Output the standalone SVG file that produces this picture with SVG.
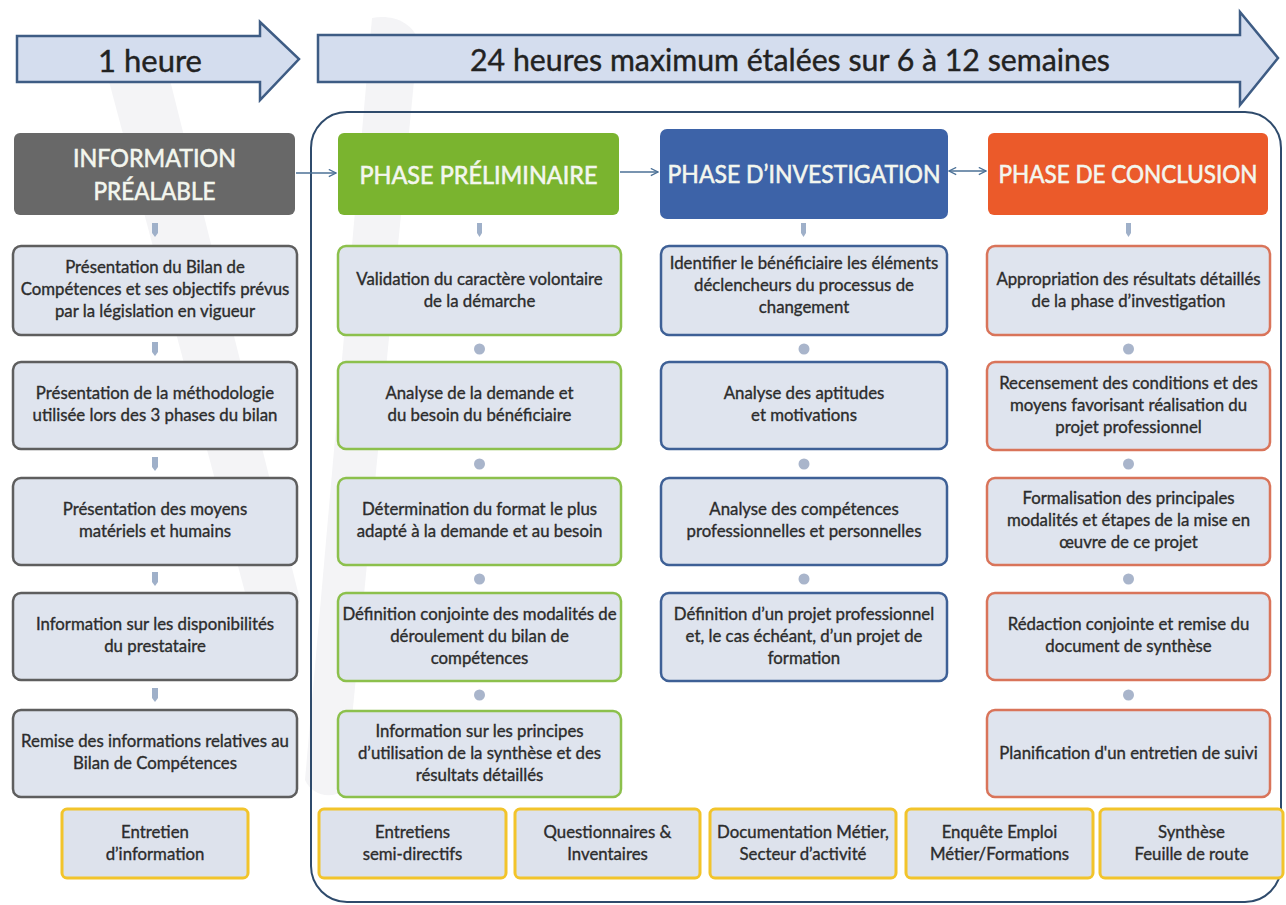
<svg xmlns="http://www.w3.org/2000/svg" width="1286" height="905" viewBox="0 0 1286 905">
<defs>
<style>
.t{font-family:Lato,"Open Sans","Liberation Sans",sans-serif;font-size:16.8px;fill:#2c2c2c;stroke:#2c2c2c;stroke-width:0.35;text-anchor:middle}
.big{font-family:Lato,"Open Sans","Liberation Sans",sans-serif;font-size:31px;fill:#222;stroke:#222;stroke-width:0.4;text-anchor:middle}
.hd{font-family:Lato,"Open Sans","Liberation Sans",sans-serif;font-size:25px;fill:#f3f6ee;stroke:#f3f6ee;stroke-width:0.6;text-anchor:middle}
.tl{fill:#d4ddee;stroke:#3e5c84;stroke-width:2.5;stroke-linejoin:miter}
.box{fill:#dfe4ee;stroke-width:2.5}
.g{stroke:#5e5e5e}
.gr{stroke:#8cc04c}
.bl{stroke:#3e6096}
.or{stroke:#d9745a}
.ye{fill:#dde2ec;stroke:#f2c42b;stroke-width:3}
.dot{fill:#a9b5cb}
.sa{fill:#9fb0c9}
.con{fill:none;stroke:#4b7096;stroke-width:1.6}
.wm{fill:#f4f4f6}
</style>
<marker id="ah" viewBox="0 0 10 10" refX="9" refY="5" markerWidth="9" markerHeight="9" orient="auto-start-reverse" markerUnits="userSpaceOnUse">
<path d="M1,1 L9,5 L1,9" fill="none" stroke="#4b7096" stroke-width="1.4"/>
</marker>
</defs>
<rect width="1286" height="905" fill="#ffffff"/>

<g id="watermark">
<path class="wm" d="M98,40 C120,30 150,34 165,60 L300,600 C290,630 270,640 255,630 Z"/>
<path class="wm" d="M372,18 C392,14 412,22 418,40 L345,790 C330,800 312,795 305,780 Z"/>
</g>

<g id="timeline-1h">
<polygon class="tl" points="17,36 260,36 260,22 299,59 260,100 260,82 17,82"/>
<text class="big" x="150" y="72">1 heure</text>
</g>
<g id="timeline-24h">
<polygon class="tl" points="318,35 1240,35 1240,12 1278,58 1240,105 1240,82 318,82"/>
<text class="big" x="790" y="71" textLength="640" lengthAdjust="spacingAndGlyphs">24 heures maximum étalées sur 6 à 12 semaines</text>
</g>

<g id="container">
<rect x="311" y="112" width="970" height="790" rx="36" fill="none" stroke="#2f4b6c" stroke-width="2"/>
</g>

<g id="connectors">
<line class="con" x1="296" y1="173" x2="336" y2="173" marker-end="url(#ah)"/>
<line class="con" x1="620" y1="172" x2="658" y2="172" marker-end="url(#ah)"/>
<line class="con" x1="949" y1="171" x2="986" y2="171" marker-start="url(#ah)" marker-end="url(#ah)"/>
<path class="sa" d="M152,223 h6 v10 l-3,4 l-3,-4 z M152,342 h6 v10 l-3,4 l-3,-4 z M152,457 h6 v10 l-3,4 l-3,-4 z M152,572 h6 v10 l-3,4 l-3,-4 z M152,688 h6 v10 l-3,4 l-3,-4 z"/>
<path class="sa" d="M477,223 h5 v10 l-2.5,4 l-2.5,-4 z M801,223 h5 v10 l-2.5,4 l-2.5,-4 z M1126,223 h5 v10 l-2.5,4 l-2.5,-4 z"/>
<circle class="dot" cx="479.5" cy="349" r="5.5"/>
<circle class="dot" cx="479.5" cy="464" r="5.5"/>
<circle class="dot" cx="479.5" cy="579" r="5.5"/>
<circle class="dot" cx="479.5" cy="695" r="5.5"/>
<circle class="dot" cx="804" cy="349" r="5.5"/>
<circle class="dot" cx="804" cy="464" r="5.5"/>
<circle class="dot" cx="804" cy="579" r="5.5"/>
<circle class="dot" cx="1128.5" cy="349" r="5.5"/>
<circle class="dot" cx="1128.5" cy="464" r="5.5"/>
<circle class="dot" cx="1128.5" cy="579" r="5.5"/>
<circle class="dot" cx="1128.5" cy="695" r="5.5"/>
</g>

<g id="hdr-info">
<rect x="14" y="133" width="281" height="82" rx="6" fill="#686868"/>
<text class="hd" x="154.5" y="167" textLength="163" lengthAdjust="spacingAndGlyphs">INFORMATION</text>
<text class="hd" x="154.5" y="200" textLength="122" lengthAdjust="spacingAndGlyphs">PRÉALABLE</text>
</g>
<g id="hdr-prelim">
<rect x="338" y="133" width="281" height="82" rx="6" fill="#7ab42f"/>
<text class="hd" x="478.5" y="184" textLength="238" lengthAdjust="spacingAndGlyphs">PHASE PRÉLIMINAIRE</text>
</g>
<g id="hdr-invest">
<rect x="660" y="129" width="288" height="90" rx="7" fill="#3d63a8"/>
<text class="hd" x="804" y="183" textLength="273" lengthAdjust="spacingAndGlyphs">PHASE D’INVESTIGATION</text>
</g>
<g id="hdr-concl">
<rect x="988" y="133" width="280" height="82" rx="6" fill="#eb5a2a"/>
<text class="hd" x="1128" y="183" textLength="259" lengthAdjust="spacingAndGlyphs">PHASE DE CONCLUSION</text>
</g>

<!-- left column -->
<g id="info-1"><rect class="box g" x="13" y="246" width="284" height="89" rx="8"/>
<text class="t" x="155" y="273">Présentation du Bilan de</text><text class="t" x="155" y="295">Compétences et ses objectifs prévus</text><text class="t" x="155" y="317">par la législation en vigueur</text></g>
<g id="info-2"><rect class="box g" x="13" y="362" width="284" height="87" rx="8"/>
<text class="t" x="155" y="399">Présentation de la méthodologie</text><text class="t" x="155" y="421">utilisée lors des 3 phases du bilan</text></g>
<g id="info-3"><rect class="box g" x="13" y="478" width="284" height="87" rx="8"/>
<text class="t" x="155" y="515">Présentation des moyens</text><text class="t" x="155" y="537">matériels et humains</text></g>
<g id="info-4"><rect class="box g" x="13" y="593" width="284" height="87" rx="8"/>
<text class="t" x="155" y="630">Information sur les disponibilités</text><text class="t" x="155" y="652">du prestataire</text></g>
<g id="info-5"><rect class="box g" x="13" y="710" width="284" height="87" rx="8"/>
<text class="t" x="155" y="747">Remise des informations relatives au</text><text class="t" x="155" y="769">Bilan de Compétences</text></g>

<!-- green column -->
<g id="prelim-1"><rect class="box gr" x="338" y="246" width="283" height="89" rx="8"/>
<text class="t" x="479.5" y="285">Validation du caractère volontaire</text><text class="t" x="479.5" y="307">de la démarche</text></g>
<g id="prelim-2"><rect class="box gr" x="338" y="362" width="283" height="87" rx="8"/>
<text class="t" x="479.5" y="399">Analyse de la demande et</text><text class="t" x="479.5" y="421">du besoin du bénéficiaire</text></g>
<g id="prelim-3"><rect class="box gr" x="338" y="478" width="283" height="87" rx="8"/>
<text class="t" x="479.5" y="515">Détermination du format le plus</text><text class="t" x="479.5" y="537">adapté à la demande et au besoin</text></g>
<g id="prelim-4"><rect class="box gr" x="338" y="593" width="283" height="88" rx="8"/>
<text class="t" x="479.5" y="620">Définition conjointe des modalités de</text><text class="t" x="479.5" y="642">déroulement du bilan de</text><text class="t" x="479.5" y="664">compétences</text></g>
<g id="prelim-5"><rect class="box gr" x="338" y="711" width="283" height="86" rx="8"/>
<text class="t" x="479.5" y="737">Information sur les principes</text><text class="t" x="479.5" y="759">d’utilisation de la synthèse et des</text><text class="t" x="479.5" y="781">résultats détaillés</text></g>

<!-- blue column -->
<g id="invest-1"><rect class="box bl" x="661" y="246" width="286" height="89" rx="8"/>
<text class="t" x="804" y="269">Identifier le bénéficiaire les éléments</text><text class="t" x="804" y="291">déclencheurs du processus de</text><text class="t" x="804" y="313">changement</text></g>
<g id="invest-2"><rect class="box bl" x="661" y="362" width="286" height="87" rx="8"/>
<text class="t" x="804" y="399">Analyse des aptitudes</text><text class="t" x="804" y="421">et motivations</text></g>
<g id="invest-3"><rect class="box bl" x="661" y="478" width="286" height="87" rx="8"/>
<text class="t" x="804" y="515">Analyse des compétences</text><text class="t" x="804" y="537">professionnelles et personnelles</text></g>
<g id="invest-4"><rect class="box bl" x="661" y="593" width="286" height="88" rx="8"/>
<text class="t" x="804" y="620">Définition d’un projet professionnel</text><text class="t" x="804" y="642">et, le cas échéant, d’un projet de</text><text class="t" x="804" y="664">formation</text></g>

<!-- orange column -->
<g id="concl-1"><rect class="box or" x="987" y="246" width="283" height="89" rx="8"/>
<text class="t" x="1128.5" y="285">Appropriation des résultats détaillés</text><text class="t" x="1128.5" y="307">de la phase d’investigation</text></g>
<g id="concl-2"><rect class="box or" x="987" y="362" width="283" height="88" rx="8"/>
<text class="t" x="1128.5" y="389">Recensement des conditions et des</text><text class="t" x="1128.5" y="411">moyens favorisant réalisation du</text><text class="t" x="1128.5" y="433">projet professionnel</text></g>
<g id="concl-3"><rect class="box or" x="987" y="478" width="283" height="87" rx="8"/>
<text class="t" x="1128.5" y="504">Formalisation des principales</text><text class="t" x="1128.5" y="526">modalités et étapes de la mise en</text><text class="t" x="1128.5" y="548">œuvre de ce projet</text></g>
<g id="concl-4"><rect class="box or" x="987" y="593" width="283" height="87" rx="8"/>
<text class="t" x="1128.5" y="630">Rédaction conjointe et remise du</text><text class="t" x="1128.5" y="652">document de synthèse</text></g>
<g id="concl-5"><rect class="box or" x="987" y="710" width="283" height="87" rx="8"/>
<text class="t" x="1128.5" y="759">Planification d'un entretien de suivi</text></g>

<!-- yellow tool boxes -->
<g id="tool-entretien"><rect class="ye" x="62" y="809" width="186" height="69" rx="5"/>
<text class="t" x="155" y="838">Entretien</text><text class="t" x="155" y="860">d’information</text></g>
<g id="tool-semi"><rect class="ye" x="319" y="809" width="187" height="69" rx="5"/>
<text class="t" x="412.5" y="838">Entretiens</text><text class="t" x="412.5" y="860">semi-directifs</text></g>
<g id="tool-quest"><rect class="ye" x="515" y="809" width="185" height="69" rx="5"/>
<text class="t" x="607.5" y="838">Questionnaires &amp;</text><text class="t" x="607.5" y="860">Inventaires</text></g>
<g id="tool-doc"><rect class="ye" x="710" y="809" width="186" height="69" rx="5"/>
<text class="t" x="803" y="838">Documentation Métier,</text><text class="t" x="803" y="860">Secteur d’activité</text></g>
<g id="tool-enq"><rect class="ye" x="906" y="809" width="187" height="69" rx="5"/>
<text class="t" x="999.5" y="838">Enquête Emploi</text><text class="t" x="999.5" y="860">Métier/Formations</text></g>
<g id="tool-synth"><rect class="ye" x="1100" y="809" width="183" height="69" rx="5"/>
<text class="t" x="1191.5" y="838">Synthèse</text><text class="t" x="1191.5" y="860">Feuille de route</text></g>
</svg>
